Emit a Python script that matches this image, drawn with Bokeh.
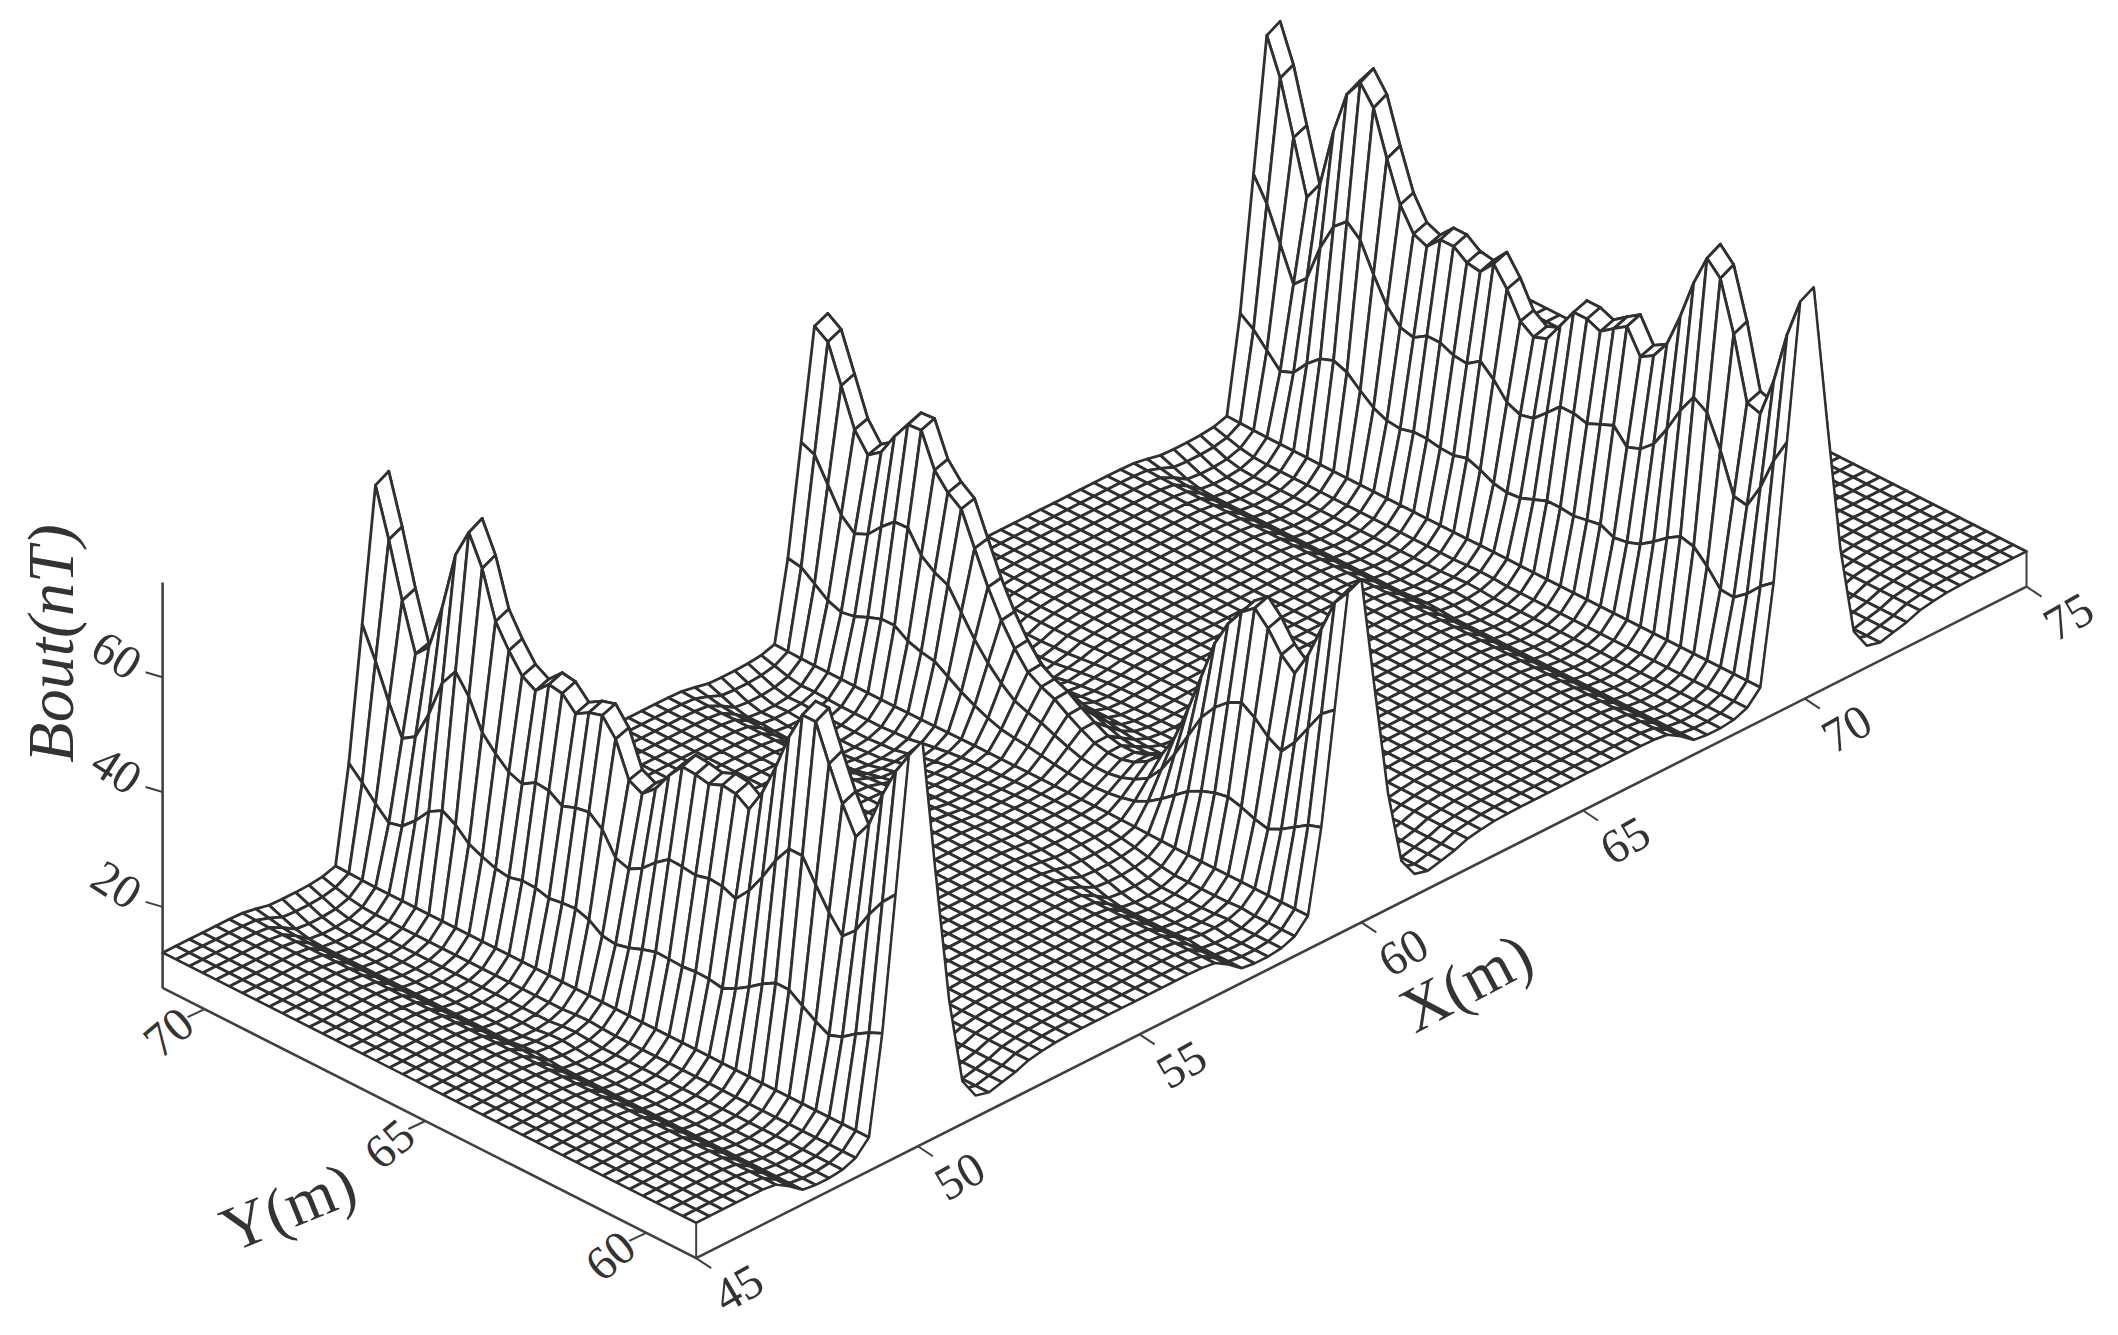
import numpy as np
from bokeh.plotting import figure
from bokeh.models import Range1d
from bokeh.core.properties import value
from bokeh.embed import file_html
from bokeh.resources import INLINE

# Ridge-top Bout (nT), from the back (Y high) to the front (Y low)
ridge_x50 = [76,67.5,57.9,49.6,52,60.2,70.8,76,70.8,62.6,58.6,55.3,53.9,56.2,55.8,53.4,54.8,55.5,52.5,46.4,45.2,47.3,50.8,53.6,53.4,52.9,53.9,53.6,52,56.2,61.9,68.5,73.6,73.6,67.3,61.4,56.7,60.2,66.6,72,76]
ridge_x60 = [64.9,63.3,56.7,50.1,46.8,48.5,52.5,55.8,56,50.1,47.3,45.6,39.8,34.1,29.4,25.6,22.6,21.2,20.2,18.6,17.2,16,15.5,15.5,16.2,17.6,19.8,24.2,30.4,37.4,44.5,49.2,52.5,54.4,52,48.5,46.4,50.8,56.7,62.6,65.6]
ridge_x70 = [76,69.6,60.2,50.8,54.4,64.9,72.7,76,72.7,64.9,57.9,53.9,52.9,55.3,55.3,53.6,53.2,55.8,52.5,48,46.4,47.3,50.8,54.4,54.4,53.4,55.1,56.7,52.5,53.9,57.2,63.3,70.4,76,73.6,64.9,53.9,53.2,60.2,69.6,76.7]
# Share of the ridge height at mesh rows -12 .. +12 around a ridge
cross_rows = [-12,-11,-10,-9,-8,-7,-6,-5,-4,-3,-2,-1,0,1,2,3,4,5,6,7,8,9,10,11,12]
cross_share = [-.001,-.006,-.03,-.06,-.065,-.065,-.06,-.045,-.005,.26,.62,.98,1,.62,.26,.02,-.04,-.05,-.04,-.03,-.015,-.008,-.003,-.001,0]
# The trough at a ridge's foot fades out over the first mesh columns at the back edge
trough_fade = [.3,.55,.8,.95]
ridge_rows = [17,50,84]
base_z = 12.0
x_ticks = [45,50,55,60,65,70,75]
y_ticks = [60,65,70]
z_ticks = [20,40,60]

S = 2118/1568
X_MIN, X_MAX = 45.0, 75.0
Y_MIN, Y_MAX = 58.87, 70.95
KX, KXY = 32.83, 16.57
KY, KYY = 32.7, 16.56
KZ = 4.25
THICK = 26

def px(X, Y):
    return S*(120 + KX*(np.asarray(X)-X_MIN) + KY*(Y_MAX-np.asarray(Y)))
def py(X, Y, Z):
    return S*(705 - KXY*(np.asarray(X)-X_MIN) + KYY*(Y_MAX-np.asarray(Y)) - KZ*(np.asarray(Z)-base_z))

xg = X_MIN + 0.3*np.arange(101)
yg = np.linspace(Y_MAX, Y_MIN, 41)
Z = np.full((101,41), base_z)
share = dict(zip(cross_rows, cross_share))
fade = np.ones(41)
fade[:len(trough_fade)] = trough_fade
for centre, ridge in zip(ridge_rows, [ridge_x50, ridge_x60, ridge_x70]):
    r = np.array(ridge) - base_z
    for off, f in share.items():
        if 0 <= centre+off <= 100:
            Z[centre+off] += f*r if f >= 0 else f*np.minimum(1.6*r, 60)*fade

LINE = "#303030"
p = figure(width=2118, height=1335, output_backend="svg", toolbar_location=None,
           x_range=Range1d(0,2118), y_range=Range1d(1335,0), min_border=0,
           outline_line_color=None, background_fill_color="white", border_fill_color="white")
p.axis.visible = False
p.grid.visible = False

xs, ys = [], []
# back to front: X descending, Y descending (j ascending, as yg runs from high Y to low Y)
for i in range(99,-1,-1):
    for j in range(0,40):
        Xq = [xg[i],xg[i+1],xg[i+1],xg[i]]
        Yq = [yg[j],yg[j],yg[j+1],yg[j+1]]
        Zq = [Z[i,j],Z[i+1,j],Z[i+1,j+1],Z[i,j+1]]
        xs.append(px(Xq,Yq).tolist()); ys.append(py(Xq,Yq,Zq).tolist())
p.patches(xs, ys, fill_color="white", line_color=LINE, line_width=2.8, line_join="round")

# white skirts on the two near edges
ex = px(xg, np.full(101,Y_MIN)); ey = py(xg, np.full(101,Y_MIN), Z[:,-1])
p.patch(np.r_[ex, ex[-1], ex[0]], np.r_[ey, py(X_MAX,Y_MIN,base_z)+S*THICK, py(X_MIN,Y_MIN,base_z)+S*THICK],
        fill_color="white", line_color=None)
p.line(ex, ey, line_color=LINE, line_width=2.2)
lx = px(np.full(41,X_MIN), yg); ly = py(np.full(41,X_MIN), yg, Z[0])
p.patch(np.r_[lx, lx[-1], lx[0]], np.r_[ly, py(X_MIN,Y_MIN,base_z)+S*THICK, py(X_MIN,Y_MAX,base_z)+S*THICK],
        fill_color="white", line_color=None)
p.line(lx, ly, line_color=LINE, line_width=2.2)

# plate bottom outline and z axis
AX = "#404040"
fb = (px(X_MIN,Y_MIN), py(X_MIN,Y_MIN,base_z)+S*THICK)
lb = (px(X_MIN,Y_MAX), py(X_MIN,Y_MAX,base_z)+S*THICK)
rb = (px(X_MAX,Y_MIN), py(X_MAX,Y_MIN,base_z)+S*THICK)
p.line([lb[0],fb[0],rb[0]], [lb[1],fb[1],rb[1]], line_color=AX, line_width=2.6)
p.line([fb[0],fb[0]], [fb[1],py(X_MIN,Y_MIN,base_z)], line_color=AX, line_width=2)
p.line([rb[0],rb[0]], [rb[1],py(X_MAX,Y_MIN,base_z)], line_color=AX, line_width=2)
zt = py(X_MIN,Y_MAX,76.5)
p.line([lb[0],lb[0]], [lb[1],zt], line_color=AX, line_width=2.6)

FONT = value("Liberation Serif")
TC = "#333333"
def label(x, y, t, ang, size="48px", style="normal"):
    p.text([x],[y],text=[t],angle=ang,angle_units="deg",text_font=FONT,text_font_size=size,
           text_color=TC,text_align="center",text_baseline="middle",text_font_style=style)

for t in x_ticks:
    x0 = fb[0] + (rb[0]-fb[0])*(t-X_MIN)/(X_MAX-X_MIN)
    y0 = fb[1] + (rb[1]-fb[1])*(t-X_MIN)/(X_MAX-X_MIN)
    p.segment([x0],[y0],[x0+15],[y0+10],line_color=AX,line_width=2)
    label(x0+42, y0+30, str(t), 30)
for t in y_ticks:
    x0 = fb[0] - S*KY*(t-Y_MIN)
    y0 = fb[1] - S*KYY*(t-Y_MIN)
    p.segment([x0],[y0],[x0-17],[y0+8],line_color=AX,line_width=2)
    label(x0-36, y0+23, str(t), 40)
for t in z_ticks:
    y0 = py(X_MIN,Y_MAX,t)
    p.segment([lb[0]],[y0],[lb[0]-17],[y0-5],line_color=AX,line_width=2)
    label(lb[0]-46, y0-22, str(t), -33)

label(S*1085, S*727, "X(m)", 28, "64px")
label(S*213, S*893, "Y(m)", 22, "64px")
label(50, 643, "Bout(nT)", 90, "66px", "italic")

open("out.html","w").write(file_html(p, INLINE))
